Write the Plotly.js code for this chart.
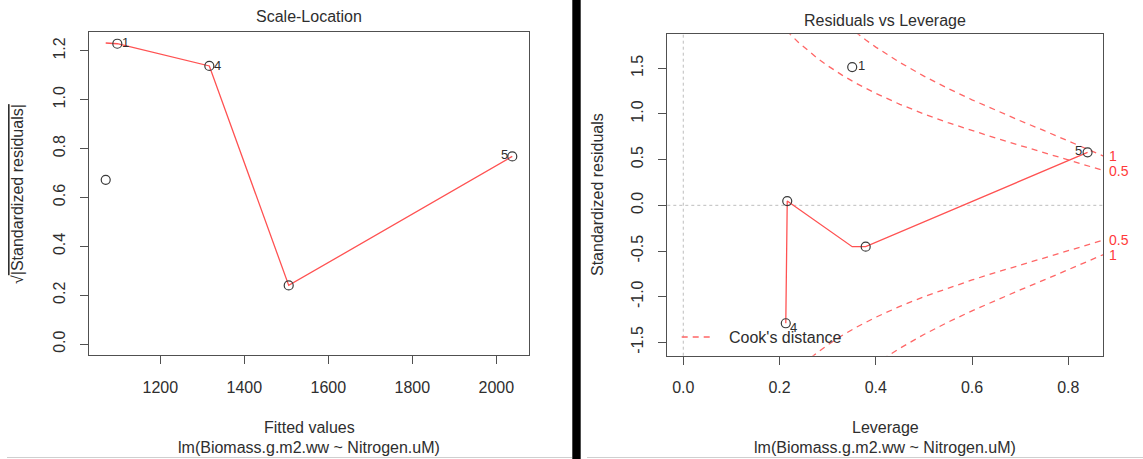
<!DOCTYPE html>
<html><head><meta charset="utf-8">
<script src="https://cdn.plot.ly/plotly-3.0.1.min.js"></script>
<style>html,body{margin:0;padding:0;background:#fff;}#plot{width:1143px;height:459px;}</style>
</head><body><div id="plot"></div>
<script>
// ---- data ----
const obsIds        = ['1','2','3','4','5'];
const pointLabels   = ['1','','','4','5'];
const fittedValues  = [1097.6, 1070.0, 1505.7, 1316.7, 2038.0];
const sqrtAbsStdRes = [1.229, 0.672, 0.240, 1.138, 0.768];
const leverage      = [0.351, 0.379, 0.216, 0.213, 0.840];
const stdResiduals  = [1.513, -0.453, 0.047, -1.291, 0.580];

// red smoother lines
const slSmoothX = [1070.0, 1097.6, 1316.7, 1505.7, 2038.0];
const slSmoothY = [1.232, 1.229, 1.138, 0.240, 0.768];
const rlSmoothX = [0.213, 0.216, 0.351, 0.379, 0.840];
const rlSmoothY = [-1.291, 0.047, -0.453, -0.453, 0.580];

// Cook's distance contours
const cookH05 = [0.20, 0.22, 0.24, 0.26, 0.28, 0.30, 0.33, 0.36, 0.40, 0.45, 0.50, 0.55, 0.60, 0.65, 0.70, 0.75, 0.80, 0.85, 0.873];
const cookY05 = [2.000, 1.883, 1.780, 1.687, 1.604, 1.528, 1.425, 1.333, 1.225, 1.106, 1.000, 0.905, 0.817, 0.734, 0.655, 0.577, 0.500, 0.420, 0.381];
const cookH1  = [0.34, 0.36, 0.38, 0.40, 0.42, 0.45, 0.50, 0.55, 0.60, 0.65, 0.70, 0.75, 0.80, 0.85, 0.873];
const cookY1  = [1.970, 1.886, 1.806, 1.732, 1.662, 1.564, 1.414, 1.279, 1.155, 1.038, 0.926, 0.817, 0.707, 0.594, 0.539];
const cookLevels = ['0.5', '1'];

// tick labels
const slXTicks = [1200, 1400, 1600, 1800, 2000];
const slYTicks = [0.0, 0.2, 0.4, 0.6, 0.8, 1.0, 1.2];
const slYText  = ['0.0','0.2','0.4','0.6','0.8','1.0','1.2'];
const rlXTicks = [0.0, 0.2, 0.4, 0.6, 0.8];
const rlXText  = ['0.0','0.2','0.4','0.6','0.8'];
const rlYTicks = [-1.5, -1.0, -0.5, 0.0, 0.5, 1.0, 1.5];
const rlYText  = ['-1.5','-1.0','-0.5','0.0','0.5','1.0','1.5'];

// ---- drawing ----
const W = 1143, H = 459;
const px = v => v / W;
const py = v => 1 - v / H;
const FONT = 'Liberation Sans, Arial, Helvetica, sans-serif';
const TXT = '#2e2e2e';
const AX = '#505050';
const RED = '#ff5252';
const CRED = '#ff6666';

const traces = [
  {x: slSmoothX, y: slSmoothY, xaxis:'x', yaxis:'y', mode:'lines', line:{color:RED, width:1.3}, hoverinfo:'skip'},
  {x: fittedValues, y: sqrtAbsStdRes, xaxis:'x', yaxis:'y', mode:'markers',
   marker:{symbol:'circle-open', size:9, color:'#3a3a3a', line:{width:1.2}}, cliponaxis:false},
  {x: cookH05, y: cookY05, xaxis:'x2', yaxis:'y2', mode:'lines', line:{color:CRED, width:1.3, dash:'6px,5px'}, hoverinfo:'skip'},
  {x: cookH05, y: cookY05.map(v => -v), xaxis:'x2', yaxis:'y2', mode:'lines', line:{color:CRED, width:1.3, dash:'6px,5px'}, hoverinfo:'skip'},
  {x: cookH1, y: cookY1, xaxis:'x2', yaxis:'y2', mode:'lines', line:{color:CRED, width:1.3, dash:'6px,5px'}, hoverinfo:'skip'},
  {x: cookH1, y: cookY1.map(v => -v), xaxis:'x2', yaxis:'y2', mode:'lines', line:{color:CRED, width:1.3, dash:'6px,5px'}, hoverinfo:'skip'},
  {x: rlSmoothX, y: rlSmoothY, xaxis:'x2', yaxis:'y2', mode:'lines', line:{color:RED, width:1.3}, hoverinfo:'skip'},
  {x: leverage, y: stdResiduals, xaxis:'x2', yaxis:'y2', mode:'markers',
   marker:{symbol:'circle-open', size:9, color:'#3a3a3a', line:{width:1.2}}, cliponaxis:false}
];

const axCommon = {
  showgrid:false, zeroline:false, showline:true, mirror:true, linecolor:AX, linewidth:1,
  ticks:'outside', ticklen:8, tickcolor:AX, tickwidth:1,
  tickfont:{family:FONT, size:16, color:TXT}, ticklabelstandoff:9, fixedrange:true
};

const last = a => a[a.length-1];
const annotations = [
  {text:'Scale-Location', x:px(309), y:py(17)},
  {text:'Residuals vs Leverage', x:px(885), y:py(20)},
  {text:'Fitted values', x:px(309), y:py(427)},
  {text:'lm(Biomass.g.m2.ww ~ Nitrogen.uM)', x:px(309), y:py(447)},
  {text:'Leverage', x:px(885), y:py(427)},
  {text:'lm(Biomass.g.m2.ww ~ Nitrogen.uM)', x:px(885), y:py(447)},
  {text:'√<span style="text-decoration:overline">|Standardized residuals|</span>', x:px(17), y:py(194), textangle:-90},
  {text:'Standardized residuals', x:px(597), y:py(195), textangle:-90},
  {text:"Cook's distance", x:px(727), y:py(337), xanchor:'left'}
].map(a => Object.assign({xref:'paper', yref:'paper', showarrow:false, xanchor:'center', yanchor:'middle',
  font:{family:FONT, size:16, color:TXT}}, a));

// point id labels (offsets in pixels, like R's text(pos=...))
const slLabelShift = {'1':[8,1], '4':[8,0], '5':[-8,2]};
const rlLabelShift = {'1':[9,2], '4':[8,-4], '5':[-9,2]};
pointLabels.forEach((lab, i) => {
  if (!lab) return;
  annotations.push({text:lab, xref:'x', yref:'y', x:fittedValues[i], y:sqrtAbsStdRes[i], showarrow:false,
    xanchor:'center', yanchor:'middle', xshift:slLabelShift[lab][0], yshift:slLabelShift[lab][1],
    font:{family:FONT, size:13, color:TXT}});
  annotations.push({text:lab, xref:'x2', yref:'y2', x:leverage[i], y:stdResiduals[i], showarrow:false,
    xanchor:'center', yanchor:'middle', xshift:rlLabelShift[lab][0], yshift:rlLabelShift[lab][1],
    font:{family:FONT, size:13, color:TXT}});
});

// Cook's contour labels at the right edge
[[last(cookY05), cookLevels[0]], [last(cookY1), cookLevels[1]],
 [-last(cookY05), cookLevels[0]], [-last(cookY1), cookLevels[1]]].forEach(([yv, t]) => {
  annotations.push({text:t, xref:'x2 domain', yref:'y2', x:1, y:yv, xanchor:'left', yanchor:'middle',
    xshift:4, showarrow:false, font:{family:FONT, size:14, color:'#ff3a3a'}});
});

const layout = {
  width:W, height:H, margin:{l:0, r:0, t:0, b:0}, paper_bgcolor:'#ffffff', plot_bgcolor:'#ffffff',
  showlegend:false, font:{family:FONT, color:TXT},
  xaxis: Object.assign({}, axCommon, {domain:[px(89), px(528.7)], range:[1030.2, 2077.1], anchor:'y',
    tickvals: slXTicks, ticktext: slXTicks.map(String)}),
  yaxis: Object.assign({}, axCommon, {domain:[py(355.3), py(32)], range:[-0.046, 1.277], anchor:'x',
    tickvals: slYTicks, ticktext: slYText, tickangle:-90}),
  xaxis2: Object.assign({}, axCommon, {domain:[px(667.3), px(1103.3)], range:[-0.0332, 0.8727], anchor:'y2',
    tickvals: rlXTicks, ticktext: rlXText}),
  yaxis2: Object.assign({}, axCommon, {domain:[py(355.7), py(34.3)], range:[-1.646, 1.872], anchor:'x2',
    tickvals: rlYTicks, ticktext: rlYText, tickangle:-90}),
  annotations: annotations,
  shapes: [
    {type:'line', xref:'x2', yref:'y2 domain', x0:0, x1:0, y0:0, y1:1, layer:'below', line:{color:'#bdbdbd', width:1, dash:'dot'}},
    {type:'line', xref:'x2 domain', yref:'y2', x0:0, x1:1, y0:0, y1:0, layer:'below', line:{color:'#bdbdbd', width:1, dash:'dot'}},
    {type:'line', xref:'paper', yref:'paper', x0:px(681.7), x1:px(710), y0:py(337), y1:py(337), line:{color:CRED, width:1.3, dash:'6px,5px'}},
    {type:'rect', xref:'paper', yref:'paper', x0:px(572.3), x1:px(580.7), y0:0, y1:1, fillcolor:'#000', line:{width:0}},
    {type:'line', xref:'paper', yref:'paper', x0:px(7), x1:px(572), y0:py(457.5), y1:py(457.5), line:{color:'#cfcfcf', width:1}},
    {type:'line', xref:'paper', yref:'paper', x0:px(587), x1:px(1143), y0:py(457.5), y1:py(457.5), line:{color:'#cfcfcf', width:1}}
  ]
};

Plotly.newPlot('plot', traces, layout, {staticPlot:true, displayModeBar:false});
</script></body></html>
